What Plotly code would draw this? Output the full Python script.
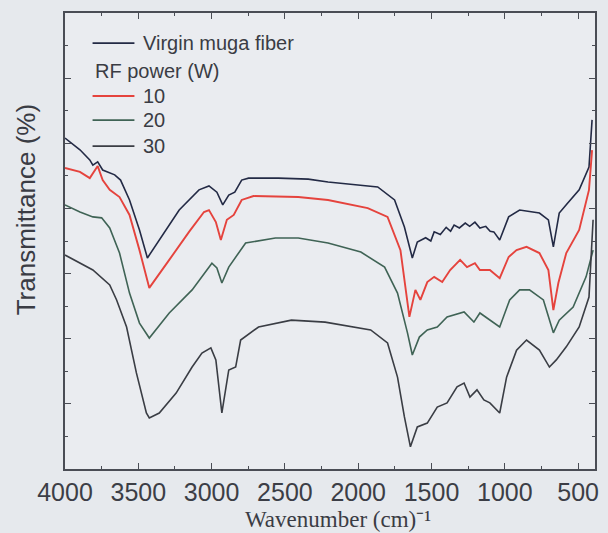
import plotly.graph_objects as go

# FTIR spectra of muga silk fiber: virgin and after RF plasma treatment
wn_virgin = [4000, 3898, 3831, 3810, 3777, 3743, 3661, 3621, 3560, 3492, 3438, 3357, 3221, 3086,
             3018, 2964, 2924, 2883, 2842, 2795, 2748, 2544, 2341, 2206, 2003, 1867, 1752, 1685,
             1631, 1597, 1540, 1505, 1482, 1440, 1400, 1370, 1346, 1310, 1270, 1240, 1204, 1170,
             1130, 1100, 1075, 1035, 974, 899, 764, 703, 669, 629, 581, 493, 426, 405]
t_virgin = [10.16, 9.80, 9.49, 9.33, 9.43, 9.18, 9.03, 8.87, 8.26, 7.34, 6.48, 7.03, 7.95, 8.57,
            8.69, 8.50, 8.11, 8.41, 8.50, 8.87, 8.93, 8.93, 8.90, 8.81, 8.72, 8.66, 8.26, 7.43,
            6.48, 6.97, 7.10, 7.00, 7.28, 7.20, 7.42, 7.30, 7.49, 7.40, 7.55, 7.45, 7.58, 7.40,
            7.45, 7.30, 7.28, 7.03, 7.74, 7.95, 7.86, 7.65, 6.82, 7.86, 8.11, 8.57, 9.27, 10.72]

wn_10 = [4000, 3898, 3831, 3777, 3743, 3695, 3628, 3560, 3492, 3425, 3289, 3154, 3052, 3018,
         2971, 2937, 2896, 2849, 2795, 2714, 2409, 2206, 1935, 1800, 1712, 1651, 1610, 1576,
         1529, 1482, 1427, 1373, 1305, 1258, 1204, 1170, 1102, 1035, 974, 920, 852, 764, 703,
         669, 635, 581, 493, 426, 405]
t_10 = [9.24, 9.12, 8.93, 9.30, 8.87, 8.57, 8.35, 7.80, 6.72, 5.56, 6.42, 7.28, 7.89, 7.95,
        7.58, 7.03, 7.65, 7.80, 8.26, 8.38, 8.35, 8.26, 8.01, 7.74, 6.72, 4.67, 5.50, 5.19,
        5.74, 5.90, 5.74, 6.11, 6.42, 6.20, 6.32, 6.11, 6.11, 5.86, 6.51, 6.72, 6.82, 6.63, 6.11,
        4.88, 5.71, 6.63, 7.34, 8.57, 9.79]

wn_20 = [4000, 3898, 3810, 3750, 3695, 3628, 3560, 3492, 3425, 3289, 3133, 2998, 2964, 2930,
         2883, 2836, 2768, 2565, 2409, 2206, 1982, 1820, 1732, 1664, 1631, 1583, 1529, 1461,
         1394, 1278, 1211, 1170, 1102, 1035, 967, 899, 832, 737, 669, 629, 534, 446, 398]
t_20 = [8.11, 7.89, 7.74, 7.71, 7.40, 6.63, 5.40, 4.48, 4.02, 4.79, 5.50, 6.32, 6.17, 5.71,
        6.20, 6.51, 6.94, 7.09, 7.09, 6.94, 6.66, 6.20, 5.40, 4.18, 3.50, 4.05, 4.27, 4.36,
        4.67, 4.82, 4.51, 4.79, 4.57, 4.36, 5.19, 5.50, 5.50, 5.19, 4.18, 4.57, 4.97, 5.90, 6.72]

wn_30 = [4000, 3810, 3695, 3648, 3580, 3513, 3445, 3425, 3357, 3242, 3133, 3066, 3005, 2971,
         2930, 2903, 2883, 2836, 2802, 2680, 2456, 2226, 1915, 1800, 1732, 1685, 1644, 1597,
         1529, 1461, 1394, 1326, 1278, 1238, 1190, 1143, 1102, 1035, 988, 920, 852, 764, 696,
         649, 581, 493, 426, 398]
t_30 = [6.57, 6.11, 5.65, 5.19, 4.36, 2.95, 1.72, 1.57, 1.72, 2.33, 3.13, 3.56, 3.72, 3.35,
        1.72, 2.52, 3.04, 3.13, 3.96, 4.36, 4.57, 4.51, 4.27, 3.87, 2.82, 1.60, 0.68, 1.29,
        1.41, 1.90, 2.03, 2.52, 2.64, 2.21, 2.43, 2.12, 2.03, 1.72, 2.82, 3.65, 3.96, 3.65, 3.13,
        3.35, 3.75, 4.36, 5.28, 7.65]

x_ticks = [4000, 3500, 3000, 2500, 2000, 1500, 1000, 500]

series_names = ["Virgin muga fiber", "10", "20", "30"]
series_colors = ["#232a45", "#e5433d", "#3f6355", "#3a3d44"]
series_widths = [1.6, 1.9, 1.6, 1.6]
legend_header = "RF power (W)"

SANS = "Liberation Sans, Arial, sans-serif"
SERIF = "Liberation Serif, Times New Roman, serif"
AXIS_COLOR = "#4a4d55"
TEXT_COLOR = "#3a3c44"

fig = go.Figure()
for wn, t, name, color, width in zip([wn_virgin, wn_10, wn_20, wn_30],
                                     [t_virgin, t_10, t_20, t_30],
                                     series_names, series_colors, series_widths):
    fig.add_trace(go.Scatter(x=wn, y=t, mode="lines", name=name, showlegend=False,
                             line=dict(color=color, width=width)))

fig.update_layout(
    width=608, height=533,
    margin=dict(l=65, r=9, t=13, b=64),
    paper_bgcolor="#e6e9ed",
    plot_bgcolor="#eaecf0",
    font=dict(family=SANS, color=TEXT_COLOR),
    xaxis=dict(range=[4000, 385], tickvals=x_ticks, ticks="inside", ticklen=6, tickwidth=1.3,
               tickcolor=AXIS_COLOR, showline=True, linecolor=AXIS_COLOR, linewidth=1.6,
               mirror="ticks", showgrid=False, zeroline=False,
               tickfont=dict(family=SANS, size=25, color="#3c3e46"),
               minor=dict(dtick=250, tick0=0, ticks="inside", ticklen=3, tickcolor=AXIS_COLOR)),
    yaxis=dict(range=[0, 14], dtick=2, tick0=0, ticks="inside", ticklen=6, tickwidth=1.3,
               tickcolor=AXIS_COLOR, showline=True, linecolor=AXIS_COLOR, linewidth=1.6,
               mirror="ticks", showgrid=False, zeroline=False, showticklabels=False,
               minor=dict(dtick=1, ticks="inside", ticklen=3, tickcolor=AXIS_COLOR)),
)

# Legend block in the upper-left corner of the plot area
row_y = [0.934, 0.873, 0.818, 0.765, 0.708]
sample_x0, sample_x1, label_x = 0.052, 0.131, 0.144
legend_rows = [(series_names[0], series_colors[0], series_widths[0]),
               (legend_header, None, None),
               (series_names[1], series_colors[1], series_widths[1]),
               (series_names[2], series_colors[2], series_widths[2]),
               (series_names[3], series_colors[3], series_widths[3])]
for yy, (label, color, width) in zip(row_y, legend_rows):
    if color is None:
        fig.add_annotation(text=label, xref="paper", yref="paper", x=sample_x0, y=yy,
                           xanchor="left", yanchor="middle", showarrow=False,
                           font=dict(family=SANS, size=20, color=TEXT_COLOR))
        continue
    fig.add_shape(type="line", xref="paper", yref="paper", x0=sample_x0, x1=sample_x1,
                  y0=yy, y1=yy, line=dict(color=color, width=width + 0.3))
    fig.add_annotation(text=label, xref="paper", yref="paper", x=label_x, y=yy,
                       xanchor="left", yanchor="middle", showarrow=False,
                       font=dict(family=SANS, size=20, color=TEXT_COLOR))

fig.add_annotation(text="Wavenumber (cm)\u207b\u00b9", xref="paper", yref="paper",
                   x=0.515, y=-0.1404, xanchor="center", yanchor="bottom", showarrow=False,
                   borderpad=0, font=dict(family=SERIF, size=23, color=TEXT_COLOR))
fig.add_annotation(text="Transmittance (%)", textangle=-90, xref="paper", yref="paper",
                   x=-0.073, y=0.568, xanchor="center", yanchor="middle", showarrow=False,
                   font=dict(family=SANS, size=26, color=TEXT_COLOR))

fig.write_html("out.html")
